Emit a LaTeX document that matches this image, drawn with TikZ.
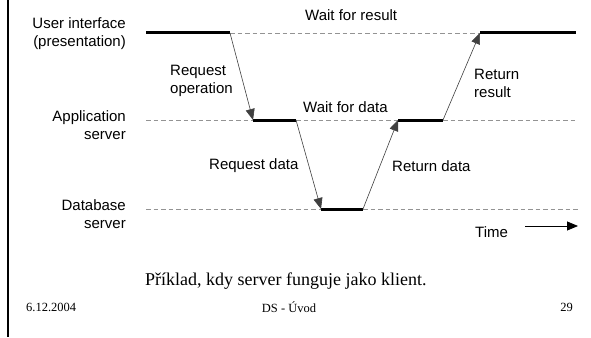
\documentclass[tikz,border=0pt]{standalone}
\usepackage{fontspec}
\setmainfont{Liberation Serif}
\setsansfont{Liberation Sans}
\usetikzlibrary{arrows.meta}
\tikzset{
  lbl/.style={font=\sffamily\fontsize{15}{18}\selectfont, inner sep=0pt, align=left},
  lblr/.style={font=\sffamily\fontsize{15}{18}\selectfont, inner sep=0pt, align=right, anchor=east},
  active/.style={line width=3pt, black},
  idle/.style={line width=0.9pt, gray!85, dash pattern=on 4.5pt off 3pt},
  msg/.style={line width=0.6pt, black!75, -{Triangle[length=11pt,width=9pt]}},
  foot/.style={font=\fontsize{12.5}{14}\selectfont, inner sep=0pt}
}
\begin{document}
\begin{tikzpicture}[x=1pt,y=-1pt]
\useasboundingbox (0,0) rectangle (591,337);
\fill[white] (0,0) rectangle (591,337);
\draw[line width=2.5pt] (8,0) -- (8,337);
% lane coordinates
\coordinate (u0) at (146,33);
\coordinate (u1) at (230,33);
\coordinate (u2) at (480,33);
\coordinate (u3) at (576,33);
\coordinate (a0) at (146,120);
\coordinate (a1) at (253,120);
\coordinate (a2) at (296,120);
\coordinate (a3) at (398,120);
\coordinate (a4) at (443,120);
\coordinate (a5) at (576,120);
\coordinate (d0) at (146,209);
\coordinate (d1) at (321,209);
\coordinate (d2) at (363,209);
\coordinate (d3) at (578,209);
% idle dashed
\draw[idle] (u1) -- (u2);
\draw[idle] (a0) -- (a1);
\draw[idle] (a2) -- (a3);
\draw[idle] (a4) -- (a5);
\draw[idle] (d0) -- (d1);
\draw[idle] (d2) -- (d3);
% active
\draw[active] (u0) -- (u1);
\draw[active] (u2) -- (u3);
\draw[active] (a1) -- (a2);
\draw[active] (a3) -- (a4);
\draw[active] (d1) -- (d2);
% messages
\draw[msg] (u1) -- (a1);
\draw[msg] (a2) -- (d1);
\draw[msg] (d2) -- (a3);
\draw[msg] (a4) -- (u2);
% labels
\node[lblr] (lui) at (126,34) {User interface\\(presentation)};
\node[lblr] (lapp) at (126,125) {Application\\server};
\node[lblr] (ldb) at (126,214) {Database\\server};
\node[lbl, anchor=west] (lreq) at (170,81) {Request\\operation};
\node[lbl, anchor=west] (lwr) at (305,15) {Wait for result};
\node[lbl, anchor=west] (lwd) at (303,107) {Wait for data};
\node[lbl, anchor=west] (lrr) at (474,83) {Return\\result};
\node[lbl, anchor=west] (lrd) at (209,166) {Request data};
\node[lbl, anchor=west] (lrt) at (392,166) {Return data};
\node[lbl, anchor=west] (ltime) at (475,232) {Time};
\coordinate (t0) at (525,226);
\coordinate (t1) at (578,226);
\draw[line width=0.8pt, -{Triangle[length=11pt,width=9pt]}] (t0) -- (t1);
% footer
\node[font=\fontsize{18}{20}\selectfont, inner sep=0pt, anchor=west] (cap) at (145,281) {Příklad, kdy server funguje jako klient.};
\node[foot, anchor=west] (date) at (26,307) {6.12.2004};
\node[foot] (title) at (289,307) {DS - Úvod};
\node[foot, anchor=east] (page) at (573,307) {29};
\end{tikzpicture}
\end{document}
